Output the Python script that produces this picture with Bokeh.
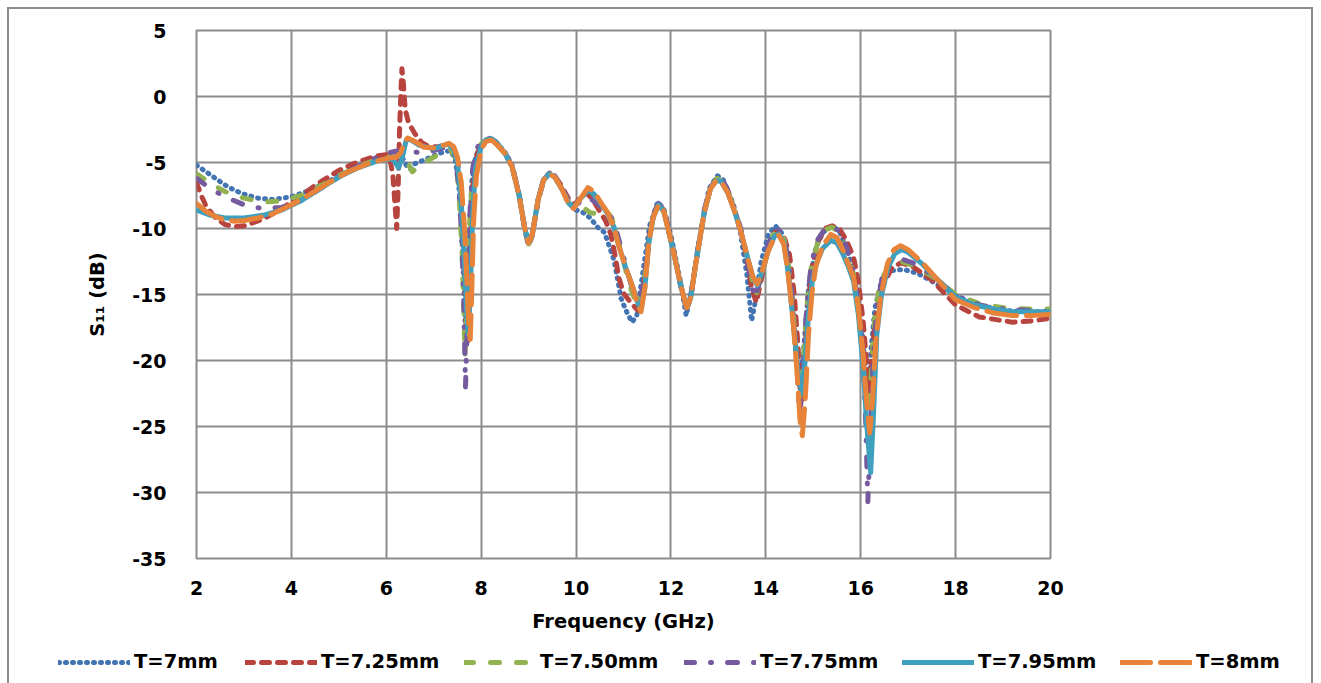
from bokeh.plotting import figure
from bokeh.layouts import column
from bokeh.models import Range1d, FixedTicker, Legend, LegendItem, ColumnDataSource
from bokeh.embed import file_html
from bokeh.resources import INLINE

# ---------------- data (frequency GHz, S11 dB) ----------------
x_ticks = [2, 4, 6, 8, 10, 12, 14, 16, 18, 20]
y_ticks = [-35, -30, -25, -20, -15, -10, -5, 0, 5]
series_names = ["T=7mm", "T=7.25mm", "T=7.50mm", "T=7.75mm", "T=7.95mm", "T=8mm"]

t700 = [(2.0,-5.2),(2.2,-5.7),(2.4,-6.2),(2.6,-6.7),(2.8,-7.1),(3.0,-7.4),(3.3,-7.7),(3.6,-7.8),(4.0,-7.6),(4.4,-7.1),(4.8,-6.4),(5.2,-5.6),(5.6,-5.0),(6.0,-4.6),(6.2,-4.5),(6.35,-4.7),(6.45,-5.4),(6.52,-5.5),(6.6,-5.1),(6.8,-4.8),(7.0,-4.5),(7.2,-4.2),(7.35,-4.1),(7.45,-4.7),(7.52,-6.5),(7.58,-9.0),(7.62,-13.0),(7.66,-17.0),(7.7,-16.0),(7.75,-11.0),(7.8,-6.5),(7.88,-4.6),(8.0,-3.6),(8.15,-3.2),(8.3,-3.4),(8.5,-4.2),(8.65,-5.2),(8.8,-7.4),(8.92,-10.0),(9.0,-11.2),(9.08,-10.4),(9.2,-7.8),(9.32,-6.3),(9.44,-5.8),(9.55,-6.1),(9.7,-7.0),(9.85,-8.1),(10.0,-8.6),(10.15,-8.8),(10.3,-9.2),(10.45,-9.9),(10.6,-10.3),(10.8,-12.4),(10.95,-15.3),(11.05,-16.2),(11.18,-17.1),(11.28,-16.6),(11.4,-13.5),(11.55,-9.8),(11.72,-8.0),(11.85,-8.5),(12.0,-10.5),(12.2,-14.0),(12.32,-16.6),(12.42,-15.0),(12.6,-10.8),(12.8,-7.0),(12.98,-6.0),(13.1,-6.3),(13.3,-8.0),(13.45,-10.0),(13.6,-13.5),(13.7,-17.0),(13.78,-15.5),(13.9,-12.5),(14.05,-10.5),(14.2,-9.8),(14.35,-10.4),(14.45,-12.5),(14.55,-16.0),(14.65,-20.0),(14.72,-22.0),(14.8,-19.0),(14.9,-14.5),(15.05,-11.5),(15.2,-10.3),(15.4,-9.8),(15.55,-10.2),(15.75,-12.0),(15.9,-14.5),(16.0,-17.0),(16.1,-20.5),(16.16,-22.0),(16.22,-19.0),(16.3,-16.0),(16.45,-13.8),(16.65,-13.2),(16.9,-13.1),(17.2,-13.4),(17.6,-14.2),(18.0,-15.1),(18.5,-15.8),(19.0,-16.2),(19.5,-16.3),(20.0,-16.3)]

t725 = [(2.0,-6.5),(2.1,-7.5),(2.2,-8.3),(2.4,-9.2),(2.6,-9.7),(2.8,-9.85),(3.0,-9.8),(3.4,-9.3),(3.8,-8.5),(4.2,-7.5),(4.6,-6.5),(5.0,-5.6),(5.4,-4.95),(5.8,-4.5),(6.0,-4.4),(6.08,-4.8),(6.14,-6.0),(6.19,-8.5),(6.22,-10.0),(6.25,-7.0),(6.28,-2.5),(6.31,0.5),(6.33,2.1),(6.36,1.0),(6.4,-1.0),(6.47,-2.0),(6.6,-2.8),(6.75,-3.5),(6.9,-3.8),(7.1,-3.8),(7.3,-3.6),(7.42,-3.9),(7.5,-4.8),(7.57,-7.5),(7.63,-12.0),(7.68,-17.0),(7.72,-18.5),(7.76,-13.0),(7.82,-7.0),(7.9,-4.5),(8.0,-3.6),(8.15,-3.2),(8.3,-3.5),(8.5,-4.3),(8.65,-5.3),(8.8,-7.5),(8.92,-10.1),(9.0,-11.3),(9.08,-10.5),(9.2,-7.9),(9.32,-6.3),(9.44,-5.8),(9.55,-6.0),(9.7,-6.8),(9.85,-7.8),(9.97,-8.2),(10.1,-7.6),(10.22,-7.3),(10.35,-7.8),(10.5,-8.7),(10.62,-9.4),(10.73,-10.4),(10.82,-12.0),(10.9,-13.7),(11.0,-14.9),(11.15,-15.6),(11.3,-16.2),(11.42,-14.5),(11.55,-10.5),(11.65,-8.8),(11.75,-8.2),(11.85,-8.6),(11.95,-10.0),(12.05,-11.6),(12.2,-14.2),(12.33,-16.1),(12.42,-15.2),(12.5,-13.2),(12.6,-11.0),(12.7,-8.8),(12.83,-7.0),(12.97,-6.2),(13.1,-6.5),(13.2,-7.2),(13.35,-8.7),(13.47,-10.1),(13.6,-12.3),(13.7,-14.5),(13.8,-15.6),(13.92,-13.6),(14.05,-11.4),(14.18,-10.3),(14.27,-10.2),(14.4,-10.8),(14.5,-12.0),(14.6,-15.0),(14.68,-19.0),(14.74,-23.5),(14.8,-21.0),(14.88,-16.0),(14.98,-12.8),(15.1,-11.0),(15.25,-10.0),(15.4,-9.8),(15.55,-10.0),(15.7,-10.9),(15.85,-12.2),(15.95,-14.0),(16.05,-17.0),(16.12,-20.0),(16.17,-22.5),(16.22,-20.5),(16.3,-17.0),(16.45,-14.5),(16.65,-13.0),(16.85,-12.6),(17.1,-12.9),(17.5,-13.9),(18.0,-15.8),(18.5,-16.7),(19.2,-17.1),(19.6,-17.0),(20.0,-16.8)]

t750 = [(2.0,-5.85),(2.3,-6.6),(2.6,-7.2),(3.0,-7.7),(3.4,-8.0),(3.8,-7.9),(4.2,-7.5),(4.6,-6.8),(5.0,-6.0),(5.4,-5.3),(5.8,-4.8),(6.0,-4.6),(6.2,-4.55),(6.35,-4.5),(6.45,-5.0),(6.55,-5.7),(6.65,-5.4),(6.8,-5.0),(7.0,-4.6),(7.2,-4.2),(7.35,-4.0),(7.45,-4.6),(7.53,-7.0),(7.6,-12.0),(7.66,-19.6),(7.71,-15.0),(7.77,-8.5),(7.85,-5.0),(8.0,-3.6),(8.15,-3.2),(8.3,-3.5),(8.5,-4.3),(8.65,-5.3),(8.8,-7.5),(8.92,-10.0),(9.0,-11.2),(9.08,-10.4),(9.2,-7.8),(9.32,-6.3),(9.44,-5.85),(9.55,-6.1),(9.7,-7.0),(9.85,-8.1),(10.0,-8.5),(10.15,-8.4),(10.3,-8.8),(10.5,-8.9),(10.65,-8.7),(10.75,-9.2),(10.85,-10.4),(11.0,-12.5),(11.15,-14.5),(11.3,-16.0),(11.42,-14.5),(11.53,-11.0),(11.63,-9.0),(11.74,-8.2),(11.85,-8.7),(11.95,-10.2),(12.05,-11.7),(12.2,-14.2),(12.33,-16.0),(12.42,-15.2),(12.5,-13.2),(12.6,-11.0),(12.7,-8.8),(12.83,-7.0),(12.97,-6.2),(13.1,-6.5),(13.2,-7.2),(13.35,-8.7),(13.47,-10.1),(13.6,-12.0),(13.72,-14.0),(13.8,-15.0),(13.92,-13.3),(14.05,-11.4),(14.18,-10.3),(14.27,-10.1),(14.38,-10.8),(14.47,-12.5),(14.56,-15.5),(14.64,-19.5),(14.71,-23.0),(14.78,-20.5),(14.86,-16.0),(14.96,-12.8),(15.1,-11.0),(15.25,-10.1),(15.4,-9.9),(15.55,-10.3),(15.7,-11.5),(15.82,-13.0),(15.92,-15.0),(16.02,-18.5),(16.1,-22.5),(16.16,-25.0),(16.22,-21.0),(16.3,-16.5),(16.42,-14.0),(16.6,-12.8),(16.85,-12.5),(17.1,-12.8),(17.5,-13.6),(18.0,-15.0),(18.5,-15.7),(19.0,-16.0),(19.5,-16.1),(20.0,-16.1)]

t775 = [(2.0,-6.2),(2.3,-7.0),(2.6,-7.6),(3.0,-8.2),(3.4,-8.5),(3.8,-8.4),(4.2,-7.9),(4.6,-7.0),(5.0,-6.1),(5.4,-5.3),(5.8,-4.6),(6.0,-4.3),(6.2,-4.15),(6.5,-4.2),(6.8,-4.25),(7.0,-4.1),(7.2,-3.9),(7.35,-3.9),(7.45,-4.5),(7.52,-6.5),(7.58,-10.0),(7.63,-15.0),(7.67,-22.0),(7.71,-17.0),(7.76,-9.0),(7.82,-5.5),(7.9,-4.0),(8.0,-3.4),(8.15,-3.1),(8.3,-3.4),(8.5,-4.2),(8.65,-5.2),(8.8,-7.4),(8.92,-10.0),(9.0,-11.2),(9.08,-10.4),(9.2,-7.8),(9.32,-6.2),(9.44,-5.8),(9.55,-6.0),(9.7,-6.9),(9.85,-8.0),(9.97,-8.4),(10.1,-7.9),(10.25,-7.6),(10.4,-8.0),(10.55,-8.4),(10.7,-8.9),(10.8,-9.6),(10.9,-10.8),(11.05,-12.8),(11.2,-14.8),(11.33,-15.8),(11.45,-13.5),(11.55,-10.5),(11.65,-8.7),(11.74,-8.1),(11.85,-8.6),(11.95,-10.1),(12.05,-11.7),(12.2,-14.3),(12.32,-16.0),(12.42,-15.0),(12.5,-13.0),(12.6,-10.8),(12.7,-8.6),(12.83,-6.9),(12.97,-6.2),(13.1,-6.4),(13.2,-7.1),(13.35,-8.6),(13.47,-10.0),(13.6,-12.2),(13.7,-14.3),(13.78,-15.3),(13.9,-13.5),(14.05,-11.2),(14.18,-10.1),(14.25,-10.0),(14.38,-10.6),(14.47,-12.3),(14.56,-15.5),(14.64,-19.5),(14.71,-24.0),(14.78,-21.0),(14.86,-16.0),(14.96,-12.6),(15.1,-10.8),(15.25,-10.0),(15.4,-9.85),(15.55,-10.2),(15.7,-11.4),(15.82,-12.9),(15.92,-15.0),(16.02,-18.5),(16.1,-24.0),(16.15,-30.7),(16.2,-26.0),(16.26,-20.0),(16.34,-16.0),(16.45,-13.8),(16.62,-12.6),(16.85,-12.3),(17.1,-12.6),(17.5,-13.5),(18.0,-15.1),(18.5,-15.8),(19.0,-16.1),(19.5,-16.2),(20.0,-16.3)]

t795 = [(2.0,-8.6),(2.3,-9.0),(2.6,-9.2),(3.0,-9.2),(3.4,-9.0),(3.8,-8.6),(4.2,-7.9),(4.6,-7.0),(5.0,-6.1),(5.4,-5.4),(5.8,-4.9),(6.0,-4.7),(6.15,-4.8),(6.26,-5.4),(6.34,-4.6),(6.42,-3.3),(6.5,-3.25),(6.7,-3.7),(7.0,-3.95),(7.3,-3.6),(7.42,-4.0),(7.5,-5.0),(7.58,-8.0),(7.64,-12.0),(7.69,-16.0),(7.73,-18.0),(7.77,-15.0),(7.82,-9.0),(7.88,-5.5),(8.0,-3.8),(8.1,-3.3),(8.22,-3.2),(8.35,-3.6),(8.5,-4.3),(8.65,-5.3),(8.8,-7.5),(8.92,-10.0),(9.0,-11.1),(9.08,-10.4),(9.2,-7.8),(9.32,-6.3),(9.44,-5.85),(9.55,-6.1),(9.7,-7.0),(9.85,-8.1),(9.95,-8.4),(10.08,-7.8),(10.25,-7.1),(10.38,-7.4),(10.5,-8.0),(10.65,-8.8),(10.8,-9.9),(10.9,-11.3),(11.05,-13.0),(11.2,-14.5),(11.3,-15.6),(11.37,-16.1),(11.45,-14.5),(11.53,-11.2),(11.62,-9.2),(11.74,-8.2),(11.85,-8.7),(11.95,-10.2),(12.05,-11.7),(12.2,-14.2),(12.33,-16.0),(12.42,-15.2),(12.5,-13.2),(12.6,-11.0),(12.7,-8.8),(12.83,-7.0),(12.95,-6.4),(13.05,-6.4),(13.2,-7.3),(13.35,-8.8),(13.47,-10.2),(13.6,-12.0),(13.72,-13.6),(13.82,-14.3),(13.92,-13.3),(14.05,-11.7),(14.18,-10.6),(14.27,-10.4),(14.38,-11.1),(14.45,-12.8),(14.52,-15.0),(14.6,-18.0),(14.68,-21.0),(14.76,-22.5),(14.83,-20.0),(14.9,-16.5),(14.98,-14.0),(15.08,-12.5),(15.2,-11.5),(15.37,-10.9),(15.5,-11.1),(15.62,-11.9),(15.75,-13.0),(15.85,-14.0),(15.95,-16.5),(16.05,-20.5),(16.13,-25.0),(16.21,-28.5),(16.27,-24.0),(16.34,-18.0),(16.44,-15.0),(16.58,-12.9),(16.72,-11.9),(16.86,-11.6),(17.0,-11.8),(17.3,-12.7),(17.6,-13.8),(18.0,-15.2),(18.4,-15.8),(18.8,-16.1),(19.2,-16.3),(19.6,-16.3),(20.0,-16.3)]

t800 = [(2.0,-8.1),(2.2,-8.7),(2.4,-9.1),(2.6,-9.35),(2.8,-9.45),(3.0,-9.4),(3.3,-9.2),(3.6,-8.9),(4.0,-8.2),(4.4,-7.4),(4.8,-6.5),(5.2,-5.7),(5.6,-5.1),(6.0,-4.7),(6.2,-4.6),(6.3,-4.3),(6.38,-3.5),(6.45,-3.15),(6.6,-3.4),(6.8,-3.85),(7.0,-3.9),(7.2,-3.7),(7.32,-3.55),(7.42,-3.8),(7.5,-4.6),(7.58,-6.5),(7.65,-10.0),(7.7,-14.0),(7.74,-17.5),(7.77,-18.4),(7.8,-15.0),(7.84,-9.5),(7.9,-6.0),(8.0,-4.0),(8.1,-3.4),(8.22,-3.3),(8.35,-3.7),(8.5,-4.3),(8.65,-5.3),(8.8,-7.5),(8.92,-10.0),(9.0,-11.1),(9.08,-10.4),(9.2,-7.8),(9.32,-6.3),(9.44,-5.85),(9.55,-6.1),(9.7,-7.0),(9.85,-8.2),(9.95,-8.5),(10.08,-7.8),(10.25,-6.9),(10.38,-7.2),(10.5,-7.9),(10.65,-8.7),(10.8,-9.9),(10.9,-11.3),(11.05,-13.0),(11.2,-14.5),(11.3,-15.8),(11.37,-16.3),(11.45,-14.5),(11.53,-11.2),(11.62,-9.2),(11.74,-8.2),(11.85,-8.7),(11.95,-10.2),(12.05,-11.7),(12.2,-14.2),(12.33,-16.0),(12.42,-15.2),(12.5,-13.2),(12.6,-11.0),(12.7,-8.8),(12.83,-7.0),(12.95,-6.4),(13.05,-6.4),(13.2,-7.3),(13.35,-8.8),(13.47,-10.2),(13.6,-12.0),(13.72,-13.6),(13.82,-14.2),(13.92,-13.3),(14.05,-11.7),(14.18,-10.7),(14.27,-10.5),(14.38,-11.2),(14.45,-12.9),(14.52,-15.0),(14.59,-17.7),(14.66,-21.0),(14.72,-24.5),(14.77,-25.7),(14.83,-23.0),(14.9,-18.0),(14.97,-15.0),(15.05,-12.9),(15.2,-11.3),(15.37,-10.45),(15.5,-10.7),(15.62,-11.6),(15.75,-12.8),(15.85,-13.7),(15.95,-16.0),(16.05,-19.5),(16.12,-23.0),(16.19,-25.5),(16.25,-23.0),(16.32,-18.5),(16.42,-15.2),(16.56,-12.7),(16.7,-11.6),(16.84,-11.3),(17.0,-11.6),(17.3,-12.6),(17.6,-13.8),(18.0,-15.4),(18.4,-16.0),(18.8,-16.4),(19.2,-16.6),(19.6,-16.6),(20.0,-16.5)]

# ---------------- styling ----------------
FONT = "DejaVu Sans"
GRID = "#8c8c8c"
styles = [
    dict(line_color="#4273b3", line_width=5, line_dash="1 6"),
    dict(line_color="#b8443f", line_width=5, line_dash="8 8"),
    dict(line_color="#90b24f", line_width=5, line_dash="9 17"),
    dict(line_color="#765a9f", line_width=5, line_dash="10 16 1 16"),
    dict(line_color="#3e9fbe", line_width=5, line_dash="solid"),
    dict(line_color="#e8843a", line_width=5, line_dash="30 10"),
]
all_series = [t700, t725, t750, t775, t795, t800]
legend_x = [58, 245, 464, 684, 902, 1120]   # left edge of each legend sample, in pixels

W, H_MAIN, H_LEG = 1321, 640, 43
FL, FR, FT, FB = 196, 1050, 30, 558

fig = figure(width=W, height=H_MAIN, x_range=Range1d(2, 20), y_range=Range1d(-35, 5),
             output_backend="svg", toolbar_location=None, title=None,
             min_border_left=FL, min_border_right=W - FR, min_border_top=FT, min_border_bottom=H_MAIN - FB)
fig.background_fill_color = "white"
fig.border_fill_color = None
fig.outline_line_color = GRID
fig.outline_line_width = 2

fig.xaxis.ticker = FixedTicker(ticks=x_ticks)
fig.yaxis.ticker = FixedTicker(ticks=y_ticks)
fig.yaxis.major_label_overrides = {t: str(t) for t in y_ticks}
fig.xgrid.ticker = FixedTicker(ticks=x_ticks)
fig.ygrid.ticker = FixedTicker(ticks=y_ticks)
for g in (fig.xgrid, fig.ygrid):
    g.grid_line_color = GRID
    g.grid_line_width = 2
for ax in (fig.xaxis, fig.yaxis):
    ax.axis_line_color = None
    ax.major_tick_line_color = None
    ax.minor_tick_line_color = None
    ax.major_label_text_font = FONT
    ax.major_label_text_font_style = "bold"
    ax.major_label_text_font_size = "19px"
    ax.major_label_text_color = "black"
    ax.axis_label_text_font = FONT
    ax.axis_label_text_font_style = "bold"
    ax.axis_label_text_font_size = "19.5px"
    ax.axis_label_text_color = "black"
fig.xaxis.major_label_standoff = 16
fig.yaxis.major_label_standoff = 24
fig.xaxis.axis_label = "Frequency (GHz)"
fig.xaxis.axis_label_standoff = 12
fig.yaxis.axis_label = "S\u2081\u2081 (dB)"
fig.yaxis.axis_label_standoff = 20

for data, st in zip(all_series, styles):
    src = ColumnDataSource(dict(f=[a for a, b in data], s=[b for a, b in data]))
    fig.line("f", "s", source=src, line_cap="round", line_join="round", **st)

# legend strip below the chart (its own full-width frame so nothing is clipped)
leg = figure(width=W, height=H_LEG, x_range=Range1d(0, 1), y_range=Range1d(0, 1),
             x_axis_location=None, y_axis_location=None, output_backend="svg",
             toolbar_location=None, title=None, min_border=0)
for f_ in (fig, leg):
    try:
        f_.frame_align = False
    except Exception:
        pass
leg.grid.visible = False
leg.outline_line_color = None
leg.background_fill_color = None
leg.border_fill_color = None
# off-range proxy lines, used only to draw the legend samples
for name, st, x0 in zip(series_names, styles, legend_x):
    r = leg.line(x=[-3, -2], y=[-3, -2], line_cap="round", line_join="round", **st)
    lg = Legend(items=[LegendItem(label=name, renderers=[r])],
                orientation="horizontal", location=(x0, 10),
                glyph_width=72, glyph_height=22, label_standoff=4, spacing=0, padding=0, margin=0,
                border_line_color=None, background_fill_alpha=0,
                label_text_font=FONT, label_text_font_style="bold", label_text_font_size="19.5px",
                label_text_color="black", label_text_baseline="middle")
    leg.add_layout(lg, "center")

p = column(fig, leg, spacing=0)
line_bg = "linear-gradient(%s,%s)" % (GRID, GRID)
p.styles = {"background": (line_bg + " 7px 7px / 1306px 2px no-repeat, " +
                           line_bg + " 7px 7px / 2px 680px no-repeat, " +
                           line_bg + " 1311px 7px / 2px 680px no-repeat, #ffffff")}

open("out.html", "w").write(file_html(p, INLINE))
